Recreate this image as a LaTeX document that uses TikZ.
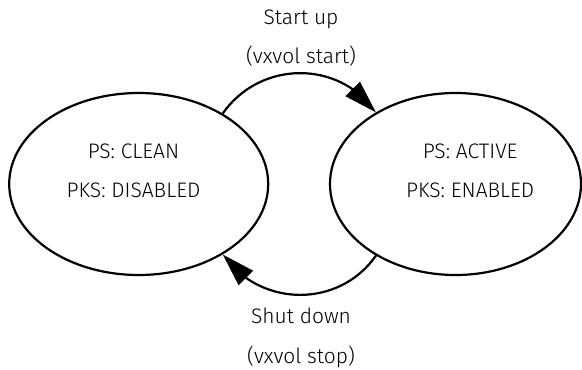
\documentclass[tikz,border=0pt]{standalone}
\usepackage{fontspec}
\setmainfont{Fira Sans}[UprightFont=* Light]
\usetikzlibrary{shapes.geometric,arrows.meta,bending}
\tikzset{
  state/.style={ellipse, draw, line width=2.2pt, inner sep=0pt},
  lbl/.style={anchor=base, inner sep=0pt, font=\fontsize{21}{25}\selectfont},
  trans/.style={line width=2.2pt, -{Triangle[length=33pt,width=20pt,flex]}, looseness=1.08}
}
\begin{document}
\begin{tikzpicture}[x=1pt,y=1pt]
\useasboundingbox (0,0) rectangle (582,-370);
\node[state, minimum width=259pt, minimum height=182pt] (L) at (138.7,-184) {};
\node[state, minimum width=251pt, minimum height=182pt] (R) at (455.5,-184) {};
\node[lbl] (l1) at (133.5,-158.3) {PS: CLEAN};
\node[lbl] (l2) at (133.5,-197.7) {PKS: DISABLED};
\node[lbl] (r1) at (470.2,-158.3) {PS: ACTIVE};
\node[lbl] (r2) at (470.2,-197.7) {PKS: ENABLED};
\node[lbl] (t1) at (301,-24) {Start up};
\node[lbl] (t2) at (301,-63) {(vxvol start)};
\node[lbl] (b1) at (301,-323.3) {Shut down};
\node[lbl] (b2) at (301,-363.5) {(vxvol stop)};
\draw[trans] (L.40) to[out=55,in=125] (R.138);
\draw[trans] (R.222) to[out=235,in=305] (L.320);
\end{tikzpicture}
\end{document}
